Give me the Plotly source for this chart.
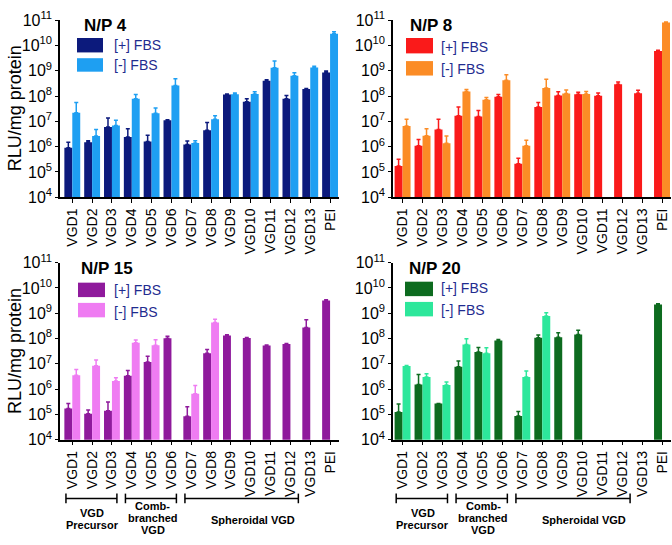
import plotly.graph_objects as go
from plotly.subplots import make_subplots

W, H = 672, 545
FONT = "Liberation Sans, Arial, sans-serif"

# categories
cats = ["VGD1", "VGD2", "VGD3", "VGD4", "VGD5", "VGD6", "VGD7",
        "VGD8", "VGD9", "VGD10", "VGD11", "VGD12", "VGD13", "PEI"]

# N/P 4
np4_plus = [9.0e5, 1.5e6, 5.9e6, 2.4e6, 1.6e6, 1.1e7, 1.2e6, 4.4e6, 1.15e8, 6.0e7, 4.0e8, 7.8e7, 1.9e8, 8.5e8]
np4_plus_err = [6e5, 2e5, 7.6e6, 2.7e6, 1.2e6, 5e5, 4.6e5, 4.5e6, 5e6, 1.8e7, 4e7, 2.7e7, 1e7, 1.3e8]
np4_minus = [2.2e7, 2.6e6, 6.9e6, 7.8e7, 2.1e7, 2.6e8, 1.4e6, 1.2e7, 1.18e8, 1.2e8, 1.3e9, 6.3e8, 1.35e9, 2.9e10]
np4_minus_err = [3.4e7, 2.1e6, 4.1e6, 3.8e7, 1.3e7, 2.2e8, 3e5, 4.5e6, 1.3e7, 2.7e7, 1.1e9, 2e8, 1.5e8, 6e9]

# N/P 8
np8_plus = [1.7e5, 1.07e6, 4.8e6, 1.66e7, 1.55e7, 9.3e7, 2.1e5, 3.7e7, 1.05e8, 1.18e8, 1.02e8, 2.9e8, 1.3e8, 6.0e9]
np8_plus_err = [1.5e5, 8.3e5, 7.2e6, 2.0e7, 1.15e7, 2.2e7, 1.4e5, 1.8e7, 4.3e7, 2.2e7, 3e7, 7e7, 4e7, 4e8]
np8_minus = [6.5e6, 2.7e6, 1.35e6, 1.5e8, 7.2e7, 4.2e8, 1.07e6, 2.1e8, 1.25e8, 1.2e8, None, None, None, 8.1e10]
np8_minus_err = [5.5e6, 2.4e6, 1.25e6, 3e7, 1.5e7, 2.7e8, 7.3e5, 2.5e8, 5e7, 3e7, 0, 0, 0, 3e9]

# N/P 15
np15_plus = [1.7e5, 1.07e5, 1.4e5, 3.4e6, 1.17e7, 1.02e8, 8.5e4, 2.6e7, 1.3e8, 1.05e8, 5.3e7, 6.0e7, 2.7e8, 3.2e9]
np15_plus_err = [1.0e5, 4.3e4, 1.7e5, 2.0e6, 8.3e6, 2.2e7, 1.15e5, 1.1e7, 1e7, 5e6, 2e6, 3e6, 2.8e8, 2e8]
np15_minus = [3.5e6, 8.3e6, 2.1e6, 6.8e7, 5.4e7, None, 6.6e5, 4.3e8, None, None, None, None, None, None]
np15_minus_err = [2.4e6, 5.7e6, 7e5, 1.9e7, 3.5e7, 0, 7.4e5, 1.5e8, 0, 0, 0, 0, 0, 0]

# N/P 20
np20_plus = [1.24e5, 1.5e6, 2.7e5, 7.6e6, 2.9e7, 8.4e7, 8.7e4, 1.07e8, 1.12e8, 1.45e8, None, None, None, 2.2e9]
np20_plus_err = [1.36e5, 2.3e6, 0, 5.4e6, 1.5e7, 8e6, 4.3e4, 3e7, 5.8e7, 6.5e7, 0, 0, 0, 1.5e8]
np20_minus = [8.1e6, 3.0e6, 1.45e6, 5.8e7, 2.6e7, None, 3.0e6, 7.8e8, None, None, None, None, None, None]
np20_minus_err = [4e5, 1.0e6, 4.5e5, 3.9e7, 1.7e7, 0, 2.2e6, 2.7e8, 0, 0, 0, 0, 0, 0]

panels = [
    ("N/P 4", np4_plus, np4_plus_err, np4_minus, np4_minus_err, "#0c1a7c", "#1e9ff2"),
    ("N/P 8", np8_plus, np8_plus_err, np8_minus, np8_minus_err, "#fa1a1a", "#fb8c26"),
    ("N/P 15", np15_plus, np15_plus_err, np15_minus, np15_minus_err, "#8f1a9c", "#ef7cf2"),
    ("N/P 20", np20_plus, np20_plus_err, np20_minus, np20_minus_err, "#0d6b1f", "#2de79b"),
]

# bracket groups under bottom panels: (text lines, first index, last index, label center, line ys)
groups = [
    (["VGD", "Precursor"], 0, 2, 1.0, [521, 534]),
    (["Comb-", "branched", "VGD"], 3, 5, 4.05, [514, 526.5, 538.5]),
    (["Spheroidal VGD"], 6, 12, 9.1, [528]),
]


def px(x):
    return x / W


def py(y):
    return 1 - y / H


fig = make_subplots(rows=2, cols=2)

pos = [(1, 1), (1, 2), (2, 1), (2, 2)]
for (r, c), (name, plus, plus_err, minus, minus_err, c1, c2) in zip(pos, panels):
    fig.add_trace(go.Bar(x=cats, y=plus, marker=dict(color=c1, line_width=0),
                         error_y=dict(type="data", array=plus_err, arrayminus=[0] * 14, symmetric=False,
                                      color=c1, thickness=1.5, width=2),
                         showlegend=False), row=r, col=c)
    fig.add_trace(go.Bar(x=cats, y=minus, marker=dict(color=c2, line_width=0),
                         error_y=dict(type="data", array=minus_err, arrayminus=[0] * 14, symmetric=False,
                                      color=c2, thickness=1.5, width=2),
                         showlegend=False), row=r, col=c)

# axis geometry (pixels)
xdom = {1: (60, 339), 2: (393, 671), 3: (60, 339), 4: (393, 671)}
xrng = {1: [-0.62, 13.45], 2: [-0.48, 13.45], 3: [-0.62, 13.45], 4: [-0.48, 13.45]}
ydom = {1: (9.5, 193.3), 2: (9.5, 193.3), 3: (261.2, 445), 4: (261.2, 445)}

tickvals = [10 ** k for k in range(4, 12)]
ticktext = ["10<sup>%d</sup>" % k for k in range(4, 12)]

for i in range(1, 5):
    sfx = "" if i == 1 else str(i)
    fig.layout["xaxis" + sfx].update(
        domain=[px(xdom[i][0]), px(xdom[i][1])], range=xrng[i], type="category",
        showline=True, linecolor="black", linewidth=1.5, ticks="outside", ticklen=4,
        tickcolor="black", tickwidth=1.2, tickangle=-90, showgrid=False,
        tickfont=dict(family=FONT, size=14, color="black"))
    fig.layout["yaxis" + sfx].update(
        domain=[py(ydom[i][1]), py(ydom[i][0])], type="log", range=[4, 11],
        tickvals=tickvals, ticktext=ticktext, showline=True, linecolor="black", linewidth=1.5,
        ticks="outside", ticklen=3, tickcolor="black", tickwidth=1.2, showgrid=False,
        zeroline=False, tickfont=dict(family=FONT, size=16, color="black"))

# legends: title, swatches, labels (pixel positions)
leg = [
    (82, 15, 77, 103, (28, 43), (49, 63), 112, (35, 56)),
    (408, 15, 406, 433, (28, 44), (52, 67), 439, (37, 60)),
    (79, 267, 78, 105, (282, 297), (303, 318), 112, (290, 312)),
    (407, 267, 405, 433, (281, 296), (302, 317), 439, (288, 310)),
]
shapes = []
annotations = []
for (name, _, _, _, _, c1, c2), (tx, ty, rx0, rx1, r1, r2, lx, ly) in zip(panels, leg):
    annotations.append(dict(x=px(tx), y=py(ty), xref="paper", yref="paper", text="<b>%s</b>" % name,
                            showarrow=False, xanchor="left", yanchor="middle",
                            font=dict(family=FONT, size=17, color="black")))
    for (y0, y1), col in ((r1, c1), (r2, c2)):
        shapes.append(dict(type="rect", xref="paper", yref="paper", x0=px(rx0), x1=px(rx1),
                           y0=py(y1), y1=py(y0), fillcolor=col, line_width=0))
    for yy, lab in zip(ly, ["[+] FBS", "[-] FBS"]):
        annotations.append(dict(x=px(lx), y=py(yy), xref="paper", yref="paper", text=lab,
                                showarrow=False, xanchor="left", yanchor="middle",
                                font=dict(family=FONT, size=14, color="#1f2c8f")))

# y-axis titles
for yc in (101, 353):
    annotations.append(dict(x=px(15), y=py(yc), xref="paper", yref="paper", text="RLU/mg protein",
                            textangle=-90, showarrow=False, xanchor="center", yanchor="middle",
                            font=dict(family=FONT, size=18, color="black")))

# brackets under bottom panels
for xa in ("x3", "x4"):
    for lines, a, b, mid, ys in groups:
        x0 = a - 0.32
        x1 = b - 0.6 if b == 12 else b + 0.25
        shapes.append(dict(type="line", xref=xa, yref="paper", x0=x0, x1=x1, y0=py(506), y1=py(506),
                           line=dict(color="black", width=1.5)))
        for xx in (x0, x1):
            shapes.append(dict(type="line", xref=xa, yref="paper", x0=xx, x1=xx, y0=py(501), y1=py(511),
                               line=dict(color="black", width=1.5)))
        for txt, yy in zip(lines, ys):
            annotations.append(dict(x=mid, y=py(yy), xref=xa, yref="paper", text="<b>%s</b>" % txt,
                                    showarrow=False, xanchor="center", yanchor="middle",
                                    font=dict(family=FONT, size=11, color="black")))

fig.update_layout(width=W, height=H, margin=dict(l=0, r=0, t=0, b=0),
                  plot_bgcolor="white", paper_bgcolor="white",
                  barmode="group", bargap=0.2, bargroupgap=0, hovermode=False,
                  shapes=shapes, annotations=annotations)

# page body has a default margin; remove it so the figure fills the window
fig.write_html("out.html", config={"displayModeBar": False},
               post_script="document.body.style.margin='0';")
